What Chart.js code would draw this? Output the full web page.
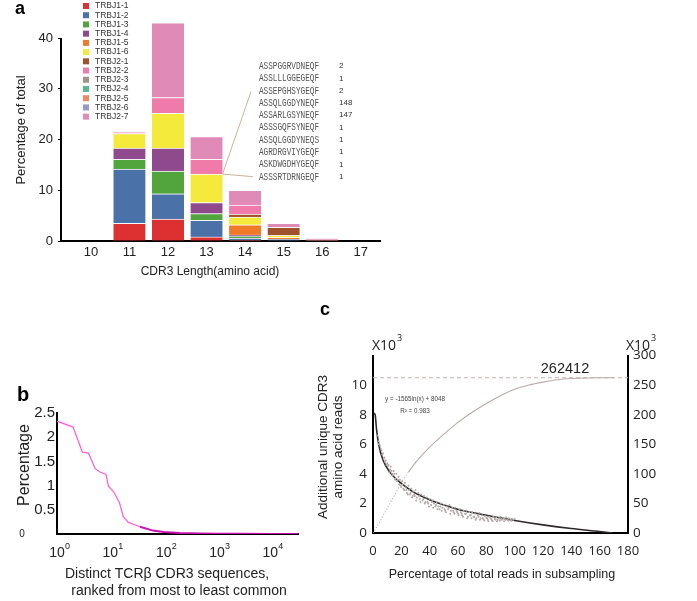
<!DOCTYPE html>
<html>
<head>
<meta charset="utf-8">
<script src="https://cdn.jsdelivr.net/npm/chart.js@4.4.1/dist/chart.umd.min.js"></script>
<style>
  html, body { margin: 0; padding: 0; background: #fff; }
  body { width: 697px; height: 601px; position: relative; overflow: hidden; }
  canvas { position: absolute; }
</style>
</head>
<body>
<canvas id="chart-a" width="400" height="290" style="left:0px;top:0px"></canvas>
<canvas id="chart-b" width="300" height="221" style="left:0px;top:380px"></canvas>
<canvas id="chart-c" width="397" height="311" style="left:300px;top:290px"></canvas>
<script>
const SANS = "'Liberation Sans', Arial, sans-serif";
const OPEN = "'Open Sans', 'Liberation Sans', sans-serif";
Chart.defaults.font.family = SANS;
Chart.defaults.color = '#222';
Chart.defaults.animation = false;

// ===== Panel a: CDR3 length by TRBJ gene =====
const cdr3Lengths = [10, 11, 12, 13, 14, 15, 16, 17];
const trbjGenes = ['TRBJ1-1', 'TRBJ1-2', 'TRBJ1-3', 'TRBJ1-4', 'TRBJ1-5', 'TRBJ1-6', 'TRBJ2-1',
                   'TRBJ2-2', 'TRBJ2-3', 'TRBJ2-4', 'TRBJ2-5', 'TRBJ2-6', 'TRBJ2-7'];
const trbjColors = ['#dd3131', '#4a72a8', '#52a43c', '#8e4a8c', '#f07a2a', '#f4ea3c', '#a0522d',
                    '#f07aaa', '#a09488', '#5ab890', '#f08860', '#9898cc', '#e08ab8'];
const trbj1_1 = [0, 3.5, 4.3, 0.8, 0.2, 0, 0, 0];
const trbj1_2 = [0, 10.7, 5.0, 3.3, 0.4, 0.4, 0, 0];
const trbj1_3 = [0, 1.9, 4.5, 1.3, 0.3, 0, 0, 0];
const trbj1_4 = [0, 2.2, 4.5, 2.2, 0.3, 0, 0, 0];
const trbj1_5 = [0, 0, 0, 0, 2.0, 0.3, 0, 0];
const trbj1_6 = [0, 2.9, 6.9, 5.6, 1.5, 0.4, 0, 0];
const trbj2_1 = [0, 0, 0, 0, 0.6, 1.6, 0, 0];
const trbj2_2 = [0, 0, 3.1, 2.9, 1.8, 0, 0, 0];
const trbj2_3 = [0, 0, 0, 0, 0, 0, 0, 0];
const trbj2_4 = [0, 0, 0, 0, 0, 0, 0, 0];
const trbj2_5 = [0, 0, 0, 0, 0, 0, 0.25, 0];
const trbj2_6 = [0, 0, 0, 0, 0, 0, 0, 0];
const trbj2_7 = [0, 0.3, 14.7, 4.5, 2.9, 0.8, 0.25, 0];
const trbjSeries = [trbj1_1, trbj1_2, trbj1_3, trbj1_4, trbj1_5, trbj1_6, trbj2_1,
                    trbj2_2, trbj2_3, trbj2_4, trbj2_5, trbj2_6, trbj2_7];
const pctTicks = [0, 10, 20, 30, 40];
const cdr3Seqs = ['ASSPGGRVDNEQF', 'ASSLLLGGEGEQF', 'ASSEPGHSYGEQF', 'ASSQLGGDYNEQF', 'ASSARLGSYNEQF',
                  'ASSSGQFSYNEQF', 'ASSQLGGDYNEQS', 'AGRDRGVIYGEQF', 'ASKDWGDHYGEQF', 'ASSSRTDRNGEQF'];
const cdr3Counts = [2, 1, 2, 148, 147, 1, 1, 1, 1, 1];

// ===== Panel b: rank abundance =====
const rankX = [1, 2, 3, 3.9, 5.2, 6.4, 8.3, 9.2, 11.4, 12.8, 14.8, 17.5, 21.8, 36, 63, 100, 200, 500, 1000, 3000, 10000, 33000];
const rankPct = [2.33, 2.21, 1.69, 1.67, 1.35, 1.28, 1.23, 0.99, 0.88, 0.78, 0.65, 0.36, 0.24, 0.15, 0.07, 0.04, 0.02, 0.01, 0.006, 0.004, 0.002, 0.001];
const rankTicks = [1, 10, 100, 1000, 10000];
const rankExp = ['0', '1', '2', '3', '4'];
const pctTicksB = [0, 0.5, 1, 1.5, 2, 2.5];

// ===== Panel c: subsampling =====
const decayX = [0.3, 1.5, 2.5, 4, 7, 12, 17, 20, 28, 40, 50, 64, 80, 100, 120, 140, 160, 169];
const decayY = [8.1, 8.0, 7.0, 6.0, 4.95, 4.1, 3.6, 3.35, 2.8, 2.25, 1.9, 1.5, 1.2, 0.85, 0.55, 0.3, 0.1, 0.0];
const satX = [0, 5, 10, 15, 20, 25, 30, 40, 50, 60, 70, 80, 90, 100, 110, 120, 130, 140, 150, 160, 170];
const satY = [0, 20, 42, 63, 85, 103, 119, 145, 167, 187, 204, 219, 232, 243, 250, 255, 259, 261, 262, 262.4, 262.4];
const cloudX = [3, 4, 5, 6, 6.5, 7, 8, 8.5, 9, 10, 10.5, 11, 12, 12.5, 13, 14, 14.5, 15, 16, 16.5, 17, 18, 18.5, 19,
  20, 20.5, 21, 22, 22.5, 23, 24, 25, 25.5, 26, 27, 28, 28.5, 29, 30, 31, 32, 33, 34, 35, 36, 37, 38, 39, 40,
  41, 42, 43, 44, 45, 46, 47, 48, 49, 50, 51, 52, 53, 54, 55, 56, 57, 58, 59, 60, 61, 62, 63, 64, 65, 66, 67,
  68, 69, 70, 71, 72, 73, 74, 75, 76, 77, 78, 79, 80, 81, 82, 83, 84, 85, 86, 87, 88, 89, 90, 91, 92, 93, 94,
  95, 96, 97, 98, 99, 100];
const cloudY = [6.6, 6.2, 5.9, 5.6, 5.3, 5.4, 5.1, 4.8, 4.9, 4.7, 4.5, 4.6, 4.3, 4.5, 4.2, 3.9, 4.2, 4.0, 3.7, 4.0, 3.5, 3.8, 3.3, 3.6,
  3.1, 3.5, 3.3, 2.9, 3.4, 3.1, 2.7, 3.2, 2.9, 2.6, 3.0, 2.5, 2.8, 2.6, 2.9, 2.4, 2.7, 2.3, 2.6, 2.2, 2.5, 2.1, 2.4, 2.0, 2.3,
  1.9, 2.2, 2.0, 1.8, 2.1, 1.8, 1.6, 2.0, 1.7, 1.9, 1.5, 1.8, 1.6, 1.9, 1.5, 1.7, 1.4, 1.7, 1.5, 1.3, 1.6, 1.4, 1.2, 1.5, 1.3, 1.5, 1.1,
  1.4, 1.2, 1.4, 1.1, 1.3, 1.0, 1.2, 1.35, 1.0, 1.2, 0.95, 1.15, 1.05, 0.9, 1.1, 1.0, 0.85, 1.1, 0.95, 1.05, 0.9, 1.0, 1.1, 0.9, 1.0, 0.95, 1.05,
  0.9, 1.0, 0.92, 0.97, 0.9, 0.95];
const cloud2X = [4, 5.5, 7.5, 9.5, 11.5, 13.5, 15.5, 17.5, 19.5, 21.5, 23.5, 24.5, 26.5, 27.5, 29.5, 30.5, 32.5, 33.5, 35.5, 36.5,
  38.5, 39.5, 41.5, 42.5, 44.5, 45.5, 47.5, 48.5, 50.5, 51.5, 53.5, 54.5, 56.5, 57.5, 59.5, 60.5, 62.5, 63.5, 65.5, 66.5,
  68.5, 69.5, 71.5, 72.5, 74.5, 75.5, 77.5, 78.5, 80.5, 81.5, 83.5, 84.5, 86.5, 87.5, 89.5, 90.5, 92.5, 93.5, 95.5, 97.5];
const cloud2Y = [6.0, 5.7, 5.0, 4.6, 4.1, 4.0, 3.6, 3.6, 3.2, 3.0, 2.9, 2.6, 2.7, 2.4, 2.5, 2.2, 2.5, 2.1, 2.3, 2.0,
  2.1, 1.8, 2.1, 1.7, 1.9, 1.6, 1.8, 1.5, 1.6, 1.4, 1.7, 1.3, 1.5, 1.3, 1.4, 1.2, 1.3, 1.1, 1.3, 1.0,
  1.2, 1.0, 1.1, 0.9, 1.1, 0.9, 1.0, 0.85, 1.0, 0.8, 0.95, 0.8, 0.9, 0.8, 0.85, 0.95, 0.8, 0.9, 0.85, 0.82];
const leftTicksC = [0, 2, 4, 6, 8, 10];
const rightTicksC = [0, 50, 100, 150, 200, 250, 300];
const pctReadTicks = [0, 20, 40, 60, 80, 100, 120, 140, 160, 180];
const totalUnique = 262412;

function drawText(ctx, text, x, y, font, color, align, rotate) {
    ctx.save();
    ctx.font = font;
    ctx.fillStyle = color || '#222';
    ctx.textAlign = align || 'center';
    ctx.textBaseline = 'middle';
    ctx.translate(x, y);
    if (rotate) ctx.rotate(rotate);
    ctx.fillText(text, 0, 0);
    ctx.restore();
}

// ---------- Panel a ----------
const panelAExtras = {
    id: 'panelAExtras',
    afterDraw(chart) {
        const { ctx, scales: { x, y } } = chart;
        ctx.save();
        ctx.strokeStyle = '#000';
        ctx.lineWidth = 2;
        ctx.beginPath();
        ctx.moveTo(x.left - 1, y.getPixelForValue(0) + 1);
        ctx.lineTo(x.left - 1, y.getPixelForValue(40));
        ctx.stroke();

        // legend
        trbjGenes.forEach((gene, i) => {
            const ly = 6 + i * 9.22;
            ctx.fillStyle = trbjColors[i];
            ctx.fillRect(83, ly - 3, 6, 6);
            drawText(ctx, gene, 95, ly, '8.5px ' + SANS, '#333', 'left');
        });

        // sequence callout
        const rowY = i => 66 + i * 12.3;
        ctx.font = '11px "Liberation Mono", "Courier New", monospace';
        ctx.fillStyle = '#555';
        ctx.textBaseline = 'middle';
        cdr3Seqs.forEach((s, i) => {
            ctx.save();
            ctx.translate(259, rowY(i));
            ctx.scale(0.70, 1);
            ctx.fillText(s, 0, 0);
            ctx.restore();
            drawText(ctx, String(cdr3Counts[i]), 339, rowY(i), '8px ' + SANS, '#333', 'left');
        });
        const el = chart.getDatasetMeta(5).data[3];
        const vx = el.x + el.width / 2, vy = el.y;
        ctx.strokeStyle = '#c8b49a';
        ctx.lineWidth = 1;
        ctx.beginPath();
        ctx.moveTo(251, rowY(2) + 1);
        ctx.lineTo(vx, vy);
        ctx.lineTo(253, rowY(9));
        ctx.stroke();

        drawText(ctx, 'Percentage of total', 21, 130, '13px ' + SANS, '#222', 'center', -Math.PI / 2);
        drawText(ctx, 'CDR3 Length(amino acid)', 210, 272, '12px ' + SANS, '#222');
        drawText(ctx, 'a', 15, 9, 'bold 18px ' + SANS, '#000', 'left');
        ctx.restore();
    }
};

new Chart(document.getElementById('chart-a'), {
    type: 'bar',
    data: {
        datasets: trbjGenes.map((gene, i) => ({
            label: gene,
            data: cdr3Lengths.map((len, k) => ({ x: len, y: trbjSeries[i][k] || null })),
            backgroundColor: trbjColors[i],
            borderColor: 'rgba(255,255,255,0.6)',
            borderWidth: { top: 1, right: 0, bottom: 0, left: 0 },
            barThickness: 32,
        })),
    },
    options: {
        responsive: false,
        devicePixelRatio: 1,
        layout: { padding: { top: 9, right: 20, left: 0, bottom: 0 } },
        plugins: { legend: { display: false }, tooltip: { enabled: false } },
        scales: {
            x: {
                type: 'linear', stacked: true, min: 9.25, max: 17.5, offset: false,
                grid: { display: false, drawTicks: false },
                border: { color: '#000', width: 2 },
                afterBuildTicks: s => { s.ticks = cdr3Lengths.map(v => ({ value: v })); },
                afterFit: s => { s.height = 49; },
                ticks: { font: { size: 13 }, color: '#222', padding: 4, maxRotation: 0, autoSkip: false },
            },
            y: {
                stacked: true, min: 0, max: 45,
                grid: { drawOnChartArea: false, tickLength: 4, color: '#000' },
                border: { display: false },
                afterBuildTicks: s => { s.ticks = pctTicks.map(v => ({ value: v })); },
                afterFit: s => { s.width = 62; },
                ticks: { font: { size: 13 }, color: '#222', padding: 5 },
            },
        },
    },
    plugins: [panelAExtras],
});

// ---------- Panel b ----------
const panelBExtras = {
    id: 'panelBExtras',
    afterDraw(chart) {
        const { ctx, scales: { x, y } } = chart;
        rankTicks.forEach((v, i) => {
            const px = x.getPixelForValue(v);
            drawText(ctx, '10', px, 173, '14px ' + SANS, '#222');
            drawText(ctx, rankExp[i], px + 8, 167, '9px ' + SANS, '#222', 'left');
        });
        drawText(ctx, '0', 22, y.getPixelForValue(0), '10px ' + SANS, '#222');
        drawText(ctx, 'Percentage', 25, 85, '16px ' + SANS, '#222', 'center', -Math.PI / 2);
        drawText(ctx, 'Distinct TCRβ CDR3 sequences,', 167, 194, '14px ' + SANS, '#222');
        drawText(ctx, 'ranked from most to least common', 179, 211, '14px ' + SANS, '#222');
        drawText(ctx, 'b', 17, 15, 'bold 20px ' + SANS, '#000', 'left');
    }
};

new Chart(document.getElementById('chart-b'), {
    type: 'line',
    data: {
        datasets: [{
            data: rankX.map((v, i) => ({ x: v, y: rankPct[i] })),
            borderWidth: 1.3,
            pointRadius: 0,
            segment: {
                borderColor: c => c.p0.parsed.x > 30 ? '#cc10b0' : '#ff60dc',
                borderWidth: c => c.p0.parsed.x > 30 ? 2 : 1.3,
            },
        }],
    },
    options: {
        responsive: false,
        devicePixelRatio: 1,
        layout: { padding: { top: 33, right: 2, left: 0, bottom: 0 } },
        plugins: { legend: { display: false }, tooltip: { enabled: false } },
        scales: {
            x: {
                type: 'logarithmic', min: 1, max: 33000,
                grid: { display: false, drawTicks: false },
                border: { color: '#000', width: 2 },
                afterBuildTicks: s => { s.ticks = rankTicks.map(v => ({ value: v })); },
                afterFit: s => { s.height = 67; },
                ticks: { display: false },
            },
            y: {
                type: 'linear', min: 0, max: 2.5,
                grid: { display: false, drawTicks: false },
                border: { color: '#000', width: 2 },
                afterBuildTicks: s => { s.ticks = pctTicksB.map(v => ({ value: v })); },
                afterFit: s => { s.width = 57; },
                ticks: { font: { size: 15 }, color: '#222', padding: 2, callback: v => v === 0 ? '' : v },
            },
        },
    },
    plugins: [panelBExtras],
});

// ---------- Panel c ----------
const panelCExtras = {
    id: 'panelCExtras',
    beforeDatasetsDraw(chart) {
        const { ctx, scales: { x, yR } } = chart;
        const py = yR.getPixelForValue(totalUnique / 1000);
        ctx.save();
        ctx.strokeStyle = '#c8b4b4';
        ctx.lineWidth = 1;
        ctx.setLineDash([4, 3]);
        ctx.beginPath();
        ctx.moveTo(x.left, py);
        ctx.lineTo(x.right, py);
        ctx.stroke();
        ctx.restore();
        drawText(ctx, String(totalUnique), 265, py - 9, '14.5px ' + SANS, '#222');
    },
    afterDraw(chart) {
        const { ctx } = chart;
        const x10 = (lx) => {
            drawText(ctx, 'X10', lx, 56, '14px ' + OPEN, '#222', 'left');
            drawText(ctx, '3', lx + 25, 48, '9px ' + OPEN, '#222', 'left');
        };
        x10(72);
        x10(326);
        drawText(ctx, 'y = -1565ln(x) + 8048', 115, 109, '6.3px ' + SANS, '#444');
        drawText(ctx, 'R² = 0.983', 115, 121, '6.3px ' + SANS, '#444');
        drawText(ctx, 'Additional unique CDR3', 23, 157, '13.5px ' + SANS, '#222', 'center', -Math.PI / 2);
        drawText(ctx, 'amino acid reads', 38, 157, '13.5px ' + SANS, '#222', 'center', -Math.PI / 2);
        drawText(ctx, 'Percentage of total reads in subsampling', 202, 285, '12.5px ' + SANS, '#222');
        drawText(ctx, 'c', 20, 20, 'bold 18px ' + SANS, '#000', 'left');
    }
};

const cloudStyle = {
    yAxisID: 'yL',
    showLine: false,
    pointRadius: 1,
    pointBorderWidth: 0,
    pointBackgroundColor: '#b0a6a6',
};

new Chart(document.getElementById('chart-c'), {
    type: 'line',
    data: {
        datasets: [
            { ...cloudStyle, data: cloudX.map((v, i) => ({ x: v, y: cloudY[i] })) },
            { ...cloudStyle, data: cloud2X.map((v, i) => ({ x: v, y: cloud2Y[i] })) },
            {
                data: decayX.map((v, i) => ({ x: v, y: decayY[i] })),
                yAxisID: 'yL',
                borderColor: '#2e2a2a',
                borderWidth: 1.6,
                pointRadius: 0,
                cubicInterpolationMode: 'monotone',
            },
            {
                data: satX.map((v, i) => ({ x: v, y: satY[i] })),
                yAxisID: 'yR',
                borderColor: '#b8aca8',
                borderWidth: 1.1,
                pointRadius: 0,
                cubicInterpolationMode: 'monotone',
                segment: { borderDash: c => c.p1.parsed.x <= 25 ? [1, 2] : undefined },
            },
        ],
    },
    options: {
        responsive: false,
        devicePixelRatio: 1,
        layout: { padding: { top: 65.5, right: 0, left: 0, bottom: 0 } },
        plugins: { legend: { display: false }, tooltip: { enabled: false } },
        scales: {
            x: {
                type: 'linear', min: 0, max: 180,
                grid: { display: false, drawTicks: false },
                border: { color: '#000', width: 2 },
                afterBuildTicks: s => { s.ticks = pctReadTicks.map(v => ({ value: v })); },
                afterFit: s => { s.height = 68; },
                ticks: { font: { size: 13, family: OPEN }, color: '#222', padding: 10, maxRotation: 0, autoSkip: false },
            },
            yL: {
                type: 'linear', position: 'left', min: 0, max: 12,
                grid: { display: false, drawTicks: false },
                border: { color: '#000', width: 2 },
                afterBuildTicks: s => { s.ticks = leftTicksC.map(v => ({ value: v })); },
                afterFit: s => { s.width = 73; },
                ticks: { font: { size: 13.5, family: OPEN }, color: '#222', padding: 6 },
            },
            yR: {
                type: 'linear', position: 'right', min: 0, max: 300,
                grid: { display: false, drawTicks: false },
                border: { color: '#000', width: 2 },
                afterBuildTicks: s => { s.ticks = rightTicksC.map(v => ({ value: v })); },
                afterFit: s => { s.width = 69; },
                ticks: { font: { size: 13.5, family: OPEN }, color: '#222', padding: 5 },
            },
        },
    },
    plugins: [panelCExtras],
});
</script>
</body>
</html>
